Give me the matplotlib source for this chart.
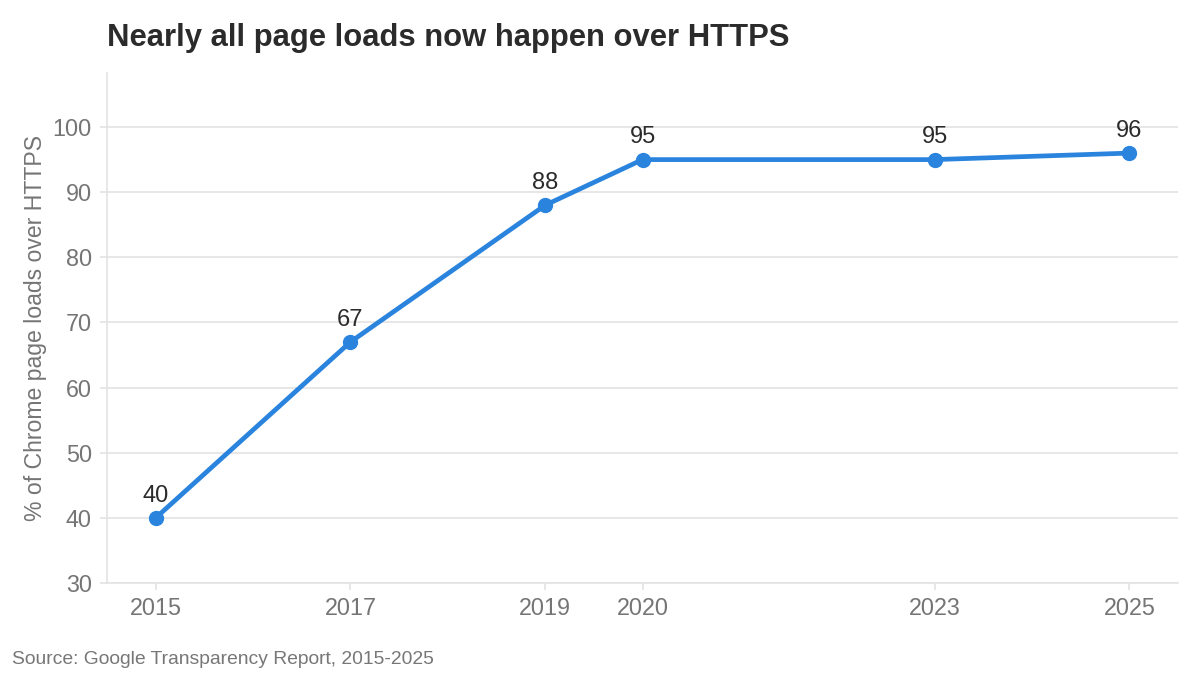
import matplotlib
matplotlib.use('Agg')
import matplotlib.pyplot as plt

years = [2015, 2017, 2019, 2020, 2023, 2025]
https_share = [40, 67, 88, 95, 95, 96]
yticks = [30, 40, 50, 60, 70, 80, 90, 100]

plt.rcParams['font.family'] = ['Liberation Sans', 'DejaVu Sans']

fig = plt.figure(figsize=(12, 6.75), dpi=100)
ax = fig.add_axes([0.0892, 0.1363, 0.8925, 0.7556])

blue = '#2a84de'
gray_line = '#e3e3e3'
ax.plot(years, https_share, color=blue, linewidth=3.4, marker='o',
        markersize=10, solid_capstyle='round', zorder=3)

for x, y in zip(years, https_share):
    ax.annotate(str(y), (x, y), xytext=(0, 8), textcoords='offset points',
                ha='center', va='bottom', fontsize=17, color='#2b2b2b')

ax.set_xlim(2014.5, 2025.5)
ax.set_ylim(30, 108.3)
ax.set_xticks(years)
ax.set_yticks(yticks)
ax.grid(axis='y', color=gray_line, linewidth=1.2, zorder=0)
ax.set_axisbelow(True)

for side in ['top', 'right']:
    ax.spines[side].set_visible(False)
for side in ['left', 'bottom']:
    ax.spines[side].set_color(gray_line)
    ax.spines[side].set_linewidth(1.2)

ax.tick_params(axis='both', colors=gray_line, labelcolor='#757575',
               labelsize=16.8, length=5, width=1.2)
ax.tick_params(axis='x', pad=5)
ax.tick_params(axis='y', pad=6)

ax.set_ylabel('% of Chrome page loads over HTTPS', fontsize=16.6,
              color='#757575', labelpad=4)

fig.text(0.0892, 0.932, 'Nearly all page loads now happen over HTTPS',
         fontsize=22.3, fontweight='bold', color='#2b2b2b', ha='left',
         va='baseline')
fig.text(0.01, 0.017, 'Source: Google Transparency Report, 2015-2025',
         fontsize=13.9, color='#777777', ha='left', va='baseline')

fig.savefig('out.png', dpi=100)
